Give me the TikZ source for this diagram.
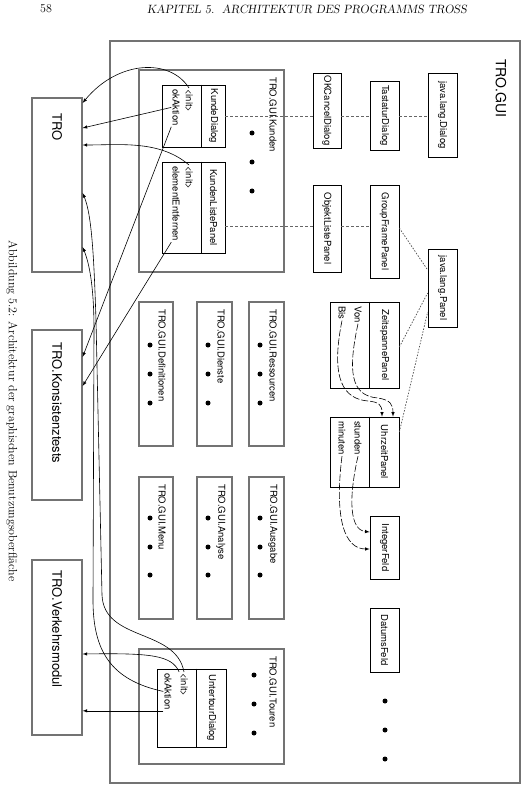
\documentclass[tikz,border=0pt]{standalone}
\usepackage{fontspec}
\newfontfamily\guifont{TeX Gyre Heros}
\tikzset{
  pkgbox/.style={draw=black!55, line width=1.2pt},
  clsbox/.style={draw, line width=0.7pt},
  clstext/.style={rotate=-90, inner sep=1pt, font=\guifont\fontsize{9.5}{11}\selectfont},
  pkglabel/.style={clstext, anchor=west},
  biglabel/.style={rotate=-90, inner sep=1pt, anchor=west, font=\guifont\fontsize{13}{15}\selectfont},
  dots/.style={fill=black},
  call/.style={-latex, line width=0.6pt},
  inherit/.style={draw=black!60, line width=0.7pt, dash pattern=on 3pt off 2pt},
  implements/.style={draw=black!70, line width=0.7pt, dash pattern=on 1.5pt off 1.5pt},
  uses/.style={-latex, line width=0.6pt, dash pattern=on 7pt off 2pt}
}
\begin{document}
\begin{tikzpicture}[x=1pt,y=-1pt]
\useasboundingbox (0,0) rectangle (524,786);
% page head and caption
\node[font=\fontsize{12}{14}\selectfont] (pagenr) at (46,9) {58};
\node[font=\fontsize{12}{14}\selectfont\slshape] (pagehead) at (307,9) {KAPITEL 5.\ \ ARCHITEKTUR DES PROGRAMMS TROSS};
\node[rotate=-90, font=\fontsize{12}{14}\selectfont] (caption) at (12,411) {Abbildung 5.2: Architektur der graphischen Benutzungsoberfl\"ache};

% outer packages
\node[pkgbox, minimum width=50pt, minimum height=174pt] (tro) at (57,185) {};
\node[pkgbox, minimum width=50pt, minimum height=170pt] (konsist) at (57,415) {};
\node[pkgbox, minimum width=50pt, minimum height=175pt] (verkehr) at (57,647.5) {};
\node[biglabel] (trolabel) at (57,112) {TRO};
\node[biglabel] (konsistlabel) at (57,341) {TRO.Konsistenztests};
\node[biglabel] (verkehrlabel) at (57,569) {TRO.Verkehrsmodul};

\node[pkgbox, minimum width=410pt, minimum height=742pt] (gui) at (315,412) {};
\node[rotate=-90, inner sep=1pt, anchor=west, font=\guifont\fontsize{14}{16}\selectfont] (guilabel) at (501,58) {TRO.GUI};

% sub packages
\node[pkgbox, minimum width=145pt, minimum height=202pt] (kunden) at (211.5,171) {};
\node[pkglabel] (kundenlabel) at (273,76) {TRO.GUI.Kunden};
\node[pkgbox, minimum width=34pt, minimum height=144pt] (defin) at (156,374) {};
\node[pkglabel] (definlabel) at (162,308) {TRO.GUI.Definitionen};
\node[pkgbox, minimum width=35pt, minimum height=144pt] (dienste) at (214.5,374) {};
\node[pkglabel] (dienstelabel) at (221,308) {TRO.GUI.Dienste};
\node[pkgbox, minimum width=35pt, minimum height=144pt] (ressourcen) at (266.5,374) {};
\node[pkglabel] (ressourcenlabel) at (273,308) {TRO.GUI.Ressourcen};
\node[pkgbox, minimum width=34pt, minimum height=142pt] (menu) at (156,548) {};
\node[pkglabel] (menulabel) at (162,483) {TRO.GUI.Menu};
\node[pkgbox, minimum width=35pt, minimum height=142pt] (analyse) at (214.5,548) {};
\node[pkglabel] (analyselabel) at (221,483) {TRO.GUI.Analyse};
\node[pkgbox, minimum width=35pt, minimum height=142pt] (ausgabe) at (266.5,548) {};
\node[pkglabel] (ausgabelabel) at (273,483) {TRO.GUI.Ausgabe};
\node[pkgbox, minimum width=145pt, minimum height=115pt] (touren) at (211.5,706.5) {};
\node[pkglabel] (tourenlabel) at (273,655) {TRO.GUI.Touren};

\fill[dots] (252,133) circle (2.5) (252,162) circle (2.5) (252,191) circle (2.5);
\fill[dots] (150,345) circle (2.5) (150,374) circle (2.5) (150,403) circle (2.5);
\fill[dots] (208,345) circle (2.5) (208,374) circle (2.5) (208,403) circle (2.5);
\fill[dots] (260,345) circle (2.5) (260,374) circle (2.5) (260,403) circle (2.5);
\fill[dots] (150,518) circle (2.5) (150,547) circle (2.5) (150,575) circle (2.5);
\fill[dots] (208,518) circle (2.5) (208,547) circle (2.5) (208,575) circle (2.5);
\fill[dots] (260,518) circle (2.5) (260,547) circle (2.5) (260,575) circle (2.5);
\fill[dots] (254,675) circle (2.5) (254,704) circle (2.5) (254,733) circle (2.5);
\fill[dots] (385,701) circle (2.5) (385,730) circle (2.5) (385,759) circle (2.5);

% classes with methods
\node[clsbox, minimum width=63pt, minimum height=62pt] (kundedialog) at (193.5,116) {};
\draw ([xshift=40pt]kundedialog.north west) -- ([xshift=40pt]kundedialog.south west);
\node[clstext] (kundedialogname) at (213.5,116) {KundeDialog};
\node[clstext, anchor=west] (kdinit) at (189,88) {<init>};
\node[clstext, anchor=west] (kdok) at (176,88) {okAktion};

\node[clsbox, minimum width=63pt, minimum height=91pt] (kundenliste) at (193.5,207.5) {};
\draw ([xshift=40pt]kundenliste.north west) -- ([xshift=40pt]kundenliste.south west);
\node[clstext] (kundenlistename) at (213.5,207.5) {KundenListePanel};
\node[clstext, anchor=west] (klinit) at (189,165) {<init>};
\node[clstext, anchor=west] (klentf) at (176,165) {elementEntfernen};

\node[clsbox, minimum width=69pt, minimum height=78pt] (untertour) at (191.5,708) {};
\draw ([xshift=40pt]untertour.north west) -- ([xshift=40pt]untertour.south west);
\node[clstext] (untertourname) at (211.5,708) {UntertourDialog};
\node[clstext, anchor=west] (utinit) at (184,672) {<init>};
\node[clstext, anchor=west] (utok) at (168,672) {okAktion};

\node[clsbox, minimum width=69pt, minimum height=86pt] (zeitspanne) at (364.5,345) {};
\draw ([xshift=40pt]zeitspanne.north west) -- ([xshift=40pt]zeitspanne.south west);
\node[clstext] (zeitspannename) at (384.5,345) {ZeitspannePanel};
\node[clstext, anchor=west] (zsvon) at (358,305) {Von};
\node[clstext, anchor=west] (zsbis) at (342,305) {Bis};

\node[clsbox, minimum width=69pt, minimum height=70pt] (uhrzeit) at (364.5,452) {};
\draw ([xshift=40pt]uhrzeit.north west) -- ([xshift=40pt]uhrzeit.south west);
\node[clstext] (uhrzeitname) at (384.5,452) {UhrzeitPanel};
\node[clstext, anchor=west] (uhstd) at (358,420) {stunden};
\node[clstext, anchor=west] (uhmin) at (342,420) {minuten};

% plain classes (rotated: south = left side, north = right side)
\node[clsbox, clstext, minimum width=75pt, minimum height=28pt] (okcancel) at (327,110.5) {OKCancelDialog};
\node[clsbox, clstext, minimum width=69pt, minimum height=29pt] (tastatur) at (384.5,115.5) {TastaturDialog};
\node[clsbox, clstext, minimum width=84pt, minimum height=29pt] (jdialog) at (442.5,115) {java.lang.Dialog};
\node[clsbox, clstext, minimum width=87pt, minimum height=28pt] (objekt) at (327,228.5) {ObjektListePanel};
\node[clsbox, clstext, minimum width=93pt, minimum height=29pt] (group) at (384.5,231.5) {GroupFramePanel};
\node[clsbox, clstext, minimum width=78pt, minimum height=29pt] (jpanel) at (442.5,288) {java.lang.Panel};
\node[clsbox, clstext, minimum width=63pt, minimum height=29pt] (integer) at (384.5,547.5) {IntegerFeld};
\node[clsbox, clstext, minimum width=64pt, minimum height=29pt] (datums) at (384.5,640) {DatumsFeld};

% inheritance
\draw[inherit] (kundedialog.east) -- (kundedialog.east -| okcancel.south);
\draw[inherit] (okcancel.north |- kundedialog.east) -- (tastatur.south |- kundedialog.east);
\draw[inherit] (tastatur.north |- kundedialog.east) -- (jdialog.south |- kundedialog.east);
\draw[inherit] (kundenliste.east |- 0,226) -- (objekt.south |- 0,226);
\draw[inherit] (objekt.north |- 0,226) -- (group.south |- 0,226);
\draw[implements] (group.north |- 0,228) -- (jpanel.south |- 0,270);
\draw[implements] (zeitspanne.east |- 0,347) -- (jpanel.south |- 0,293);
\draw[implements] (uhrzeit.east |- 0,432) -- (jpanel.south |- 0,312);

% calls
\draw[call] (kdinit.west) .. controls (170,58) and (118,60) .. (tro.east |- 0,103);
\draw[call] (kdok.south) -- (tro.east |- 0,128);
\draw[call] (klinit.west) .. controls (160,140) and (120,145) .. (tro.east |- 0,145);
\draw[call] (kdok.south east) -- (konsist.east |- 0,357);
\draw[call] (klentf.south east) -- (konsist.east |- 0,386);
\draw[call] (utinit.west) .. controls (176,628) and (104,642) .. (102,595) -- (96,320) .. controls (94,260) and (92,215) .. (tro.east |- 0,193);
\draw[call] (utok.south) .. controls (110,680) and (93,650) .. (93,600) -- (94,330) .. controls (94,290) and (90,265) .. (tro.east |- 0,247);
\draw[call] (utinit.south west) .. controls (172,655) and (150,653) .. (verkehr.east |- 0,654);
\draw[call] (utok.south east) -- (verkehr.east |- utok.south east);

% uses
\draw[uses] (zsvon.east) .. controls (348,370) and (350,396) .. (378,398) .. controls (390,400) and (393,404) .. (uhrzeit.north -| 393,0);
\draw[uses] (zsbis.east) .. controls (330,380) and (344,399) .. (368,401) .. controls (379,402) and (382,405) .. (uhrzeit.north -| 382,0);
\draw[uses] (uhstd.east) .. controls (348,500) and (350,530) .. (integer.south |- 0,532);
\draw[uses] (uhmin.east) .. controls (334,520) and (345,549) .. (integer.south |- 0,549);
\end{tikzpicture}
\end{document}
